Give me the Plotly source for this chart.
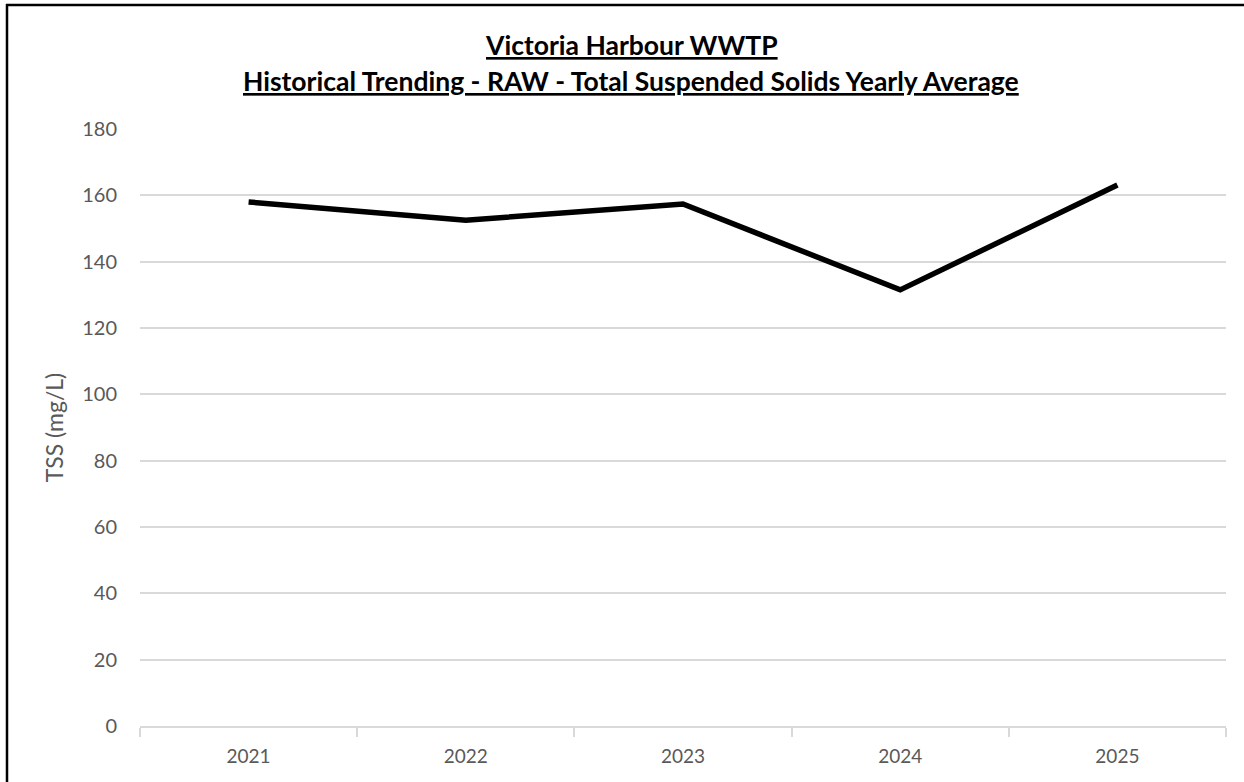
import plotly.graph_objects as go

years = ["2021", "2022", "2023", "2024", "2025"]
tss_avg = [158.0, 152.5, 157.4, 131.5, 163.1]
y_ticks = [0, 20, 40, 60, 80, 100, 120, 140, 160, 180]

title_line1 = "Victoria Harbour WWTP"
title_line2 = "Historical Trending - RAW - Total Suspended Solids Yearly Average"
y_title = "TSS (mg/L)"

FONT = "Lato"
GREY = "#595959"
GRID = "#d9d9d9"

fig = go.Figure()
fig.add_trace(go.Scatter(
    x=years, y=tss_avg, mode="lines",
    line=dict(color="black", width=5.5),
    showlegend=False, hoverinfo="x+y",
))

W, H = 1244, 782
L, R, T, B = 140, 18, 129, 56
pw, ph = W - L - R, H - T - B

def px_x(p):
    return (p - L) / pw

def px_y(p):
    return (H - B - p) / ph

fig.update_layout(
    width=W, height=H,
    margin=dict(l=L, r=R, t=T, b=B, autoexpand=False),
    paper_bgcolor="white", plot_bgcolor="white",
    font=dict(family=FONT, color=GREY, size=20),
    xaxis=dict(
        type="category", range=[-0.5, 4.5],
        showgrid=False, showline=True, linecolor=GRID, linewidth=1.5,
        ticks="outside", tickson="boundaries", ticklen=9, tickcolor=GRID,
        tickwidth=1.5, tickfont=dict(size=19, color=GREY),
        ticklabelstandoff=12,
    ),
    yaxis=dict(
        range=[0, 180], tickvals=y_ticks, showgrid=True, gridcolor=GRID,
        gridwidth=1.5, zeroline=False, showline=False, ticks="",
        tickfont=dict(size=20, color=GREY), ticklabelstandoff=22,
        title=dict(text=y_title, font=dict(size=23, color=GREY), standoff=12),
    ),
    shapes=[
        dict(type="line", xref="paper", yref="paper",
             x0=px_x(7), x1=px_x(7), y0=px_y(4), y1=px_y(800),
             line=dict(color="black", width=2.5)),
        dict(type="line", xref="paper", yref="paper",
             x0=px_x(6), x1=px_x(1250), y0=px_y(5), y1=px_y(5),
             line=dict(color="black", width=2.5)),
    ],
    annotations=[
        dict(xref="paper", yref="paper", x=px_x(631), y=px_y(45),
             xanchor="center", yanchor="middle", showarrow=False,
             text="<b><span style='text-decoration:underline'>" + title_line1 + "</span></b>",
             font=dict(family=FONT, size=26.5, color="black")),
        dict(xref="paper", yref="paper", x=px_x(631), y=px_y(81),
             xanchor="center", yanchor="middle", showarrow=False,
             text="<b><span style='text-decoration:underline'>" + title_line2 + "</span></b>",
             font=dict(family=FONT, size=26.5, color="black")),
    ],
)

fig.write_html("out.html", config={"displayModeBar": False},
               post_script="document.body.style.margin='0px';")
